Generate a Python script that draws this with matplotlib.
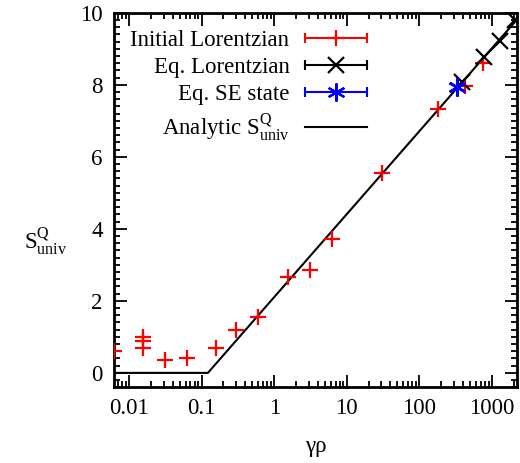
import numpy as np
import matplotlib
matplotlib.use("Agg")
import matplotlib.pyplot as plt
from matplotlib.lines import Line2D
from matplotlib.legend_handler import HandlerBase
from matplotlib.ticker import MultipleLocator, LogLocator, NullFormatter, FixedLocator, FixedFormatter

plt.rcParams['font.family'] = ['Liberation Serif', 'DejaVu Serif']
plt.rcParams['mathtext.fontset'] = 'custom'
plt.rcParams['mathtext.rm'] = 'Liberation Serif'
plt.rcParams['mathtext.it'] = 'Liberation Serif:italic'

# ---- data ----
init_x = [0.00625, 0.0155, 0.0155, 0.0155, 0.0313, 0.0624, 0.158, 0.298, 0.593,
          1.56, 3.11, 6.23, 30.4, 183, 430, 764]
init_y = [0.61, 0.99, 0.89, 0.68, 0.35, 0.41, 0.68, 1.19, 1.56,
          2.67, 2.85, 3.71, 5.56, 7.34, 7.97, 8.59]

eq_x = [385, 788, 1306, 2089]
eq_y = [8.08, 8.78, 9.21, 9.80]

se_x = [329]
se_y = [7.93]

analytic_x = [0.0062, 0.122, 2200]
analytic_y = [0.0, 0.0, 9.80]

xticks = [0.01, 0.1, 1, 10, 100, 1000]
xticklabels = ['0.01', '0.1', '1', '10', '100', '1000']
yticks = [0, 2, 4, 6, 8, 10]

labels = ['Initial Lorentzian', 'Eq. Lorentzian', 'Eq. SE state',
          r'Analytic S$^{\mathrm{Q}}_{\mathrm{univ}}$']

fig = plt.figure(figsize=(5.2, 4.63), dpi=100)
ax = fig.add_axes([0.2192, 0.1635, 0.9937 - 0.2192, 0.9726 - 0.1635])

ax.plot(analytic_x, analytic_y, color='black', lw=1.5, zorder=2)
ax.plot(init_x, init_y, ls='none', marker='+', ms=11, mew=1.6, color='red', zorder=3)
ax.plot(eq_x, eq_y, ls='none', marker='x', ms=11, mew=1.6, color='black', zorder=4)
ax.plot(se_x, se_y, ls='none', marker=(6, 2, 0), ms=13, mew=1.9, color='blue', zorder=5)

ax.set_xscale('log')
ax.set_xlim(0.0062, 2200)
ax.set_ylim(-0.4, 10)

ax.xaxis.set_major_locator(FixedLocator(xticks))
ax.xaxis.set_major_formatter(FixedFormatter(xticklabels))
ax.xaxis.set_minor_locator(LogLocator(base=10, subs=np.arange(2, 10), numticks=20))
ax.xaxis.set_minor_formatter(NullFormatter())
ax.yaxis.set_major_locator(FixedLocator(yticks))
ax.yaxis.set_minor_locator(MultipleLocator(0.2))

ax.tick_params(which='both', direction='in', top=True, right=True, labelsize=16.5, width=1.3)
ax.tick_params(which='major', length=9, pad=8)
ax.tick_params(which='minor', length=4.5)
for s in ax.spines.values():
    s.set_linewidth(2)

ax.set_xlabel('γρ', fontsize=16.5, labelpad=12)
ax.set_ylabel(r'S$^{\mathrm{Q}}_{\mathrm{univ}}$', fontsize=16.5, rotation=0, labelpad=12, va='center')
ax.yaxis.set_label_coords(-0.17, 0.39)


class ErrHandler(HandlerBase):
    def create_artists(self, legend, orig_handle, xdescent, ydescent, width, height, fontsize, trans):
        color, marker = orig_handle
        y = height / 2 - ydescent
        x0, x1 = -xdescent, width - xdescent
        arts = [Line2D([x0, x1], [y, y], color=color, lw=1.5)]
        if marker is not None:
            arts.append(Line2D([x0, x1], [y, y], ls='none', marker='|', ms=7, mew=1.5, color=color))
            ms = 13 if isinstance(marker, tuple) else 11
            arts.append(Line2D([(x0 + x1) / 2], [y], ls='none', marker=marker, ms=ms, mew=1.6, color=color))
        for a in arts:
            a.set_transform(trans)
        return arts


handles = [('red', '+'), ('black', 'x'), ('blue', (6, 2, 0)), ('black', None)]
leg = ax.legend(handles, labels, handler_map={tuple: ErrHandler()}, markerfirst=False,
                frameon=False, fontsize=16.5, handlelength=2.7, handletextpad=0.7,
                labelspacing=0.26, borderpad=0, borderaxespad=0,
                loc='upper right', bbox_to_anchor=(367.3 / 520, (463 - 30) / 463),
                bbox_transform=fig.transFigure)

fig.savefig('out.png', dpi=100)
